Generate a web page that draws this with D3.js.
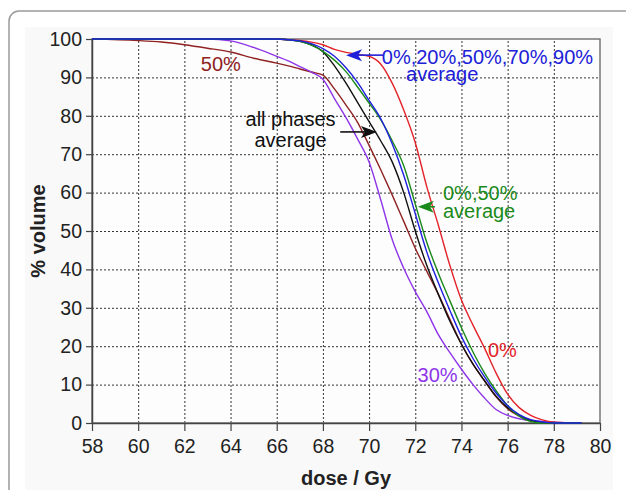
<!DOCTYPE html>
<html>
<head>
<meta charset="utf-8">
<script src="https://cdn.jsdelivr.net/npm/d3@7"></script>
<style>
  body { margin: 0; background: #fff; }
  svg { display: block; font-family: "Liberation Sans", Arial, sans-serif; }
</style>
</head>
<body>
<svg width="626" height="490"></svg>
<script>
// dose grid (Gy) shared by all curves
var dose = [58, 60, 61, 62, 63, 64, 65, 66, 66.5, 67, 67.5, 68, 68.5, 69, 69.5, 70, 70.5,
  71, 71.5, 72, 72.5, 73, 73.5, 74, 74.5, 75, 75.5, 76, 76.5, 77, 77.5, 78, 79.2];

// % volume per phase / average
var phase0 = [100, 100, 100, 100, 100, 100, 100, 100, 99.8, 99.6, 99.2, 98.5, 97.3, 96.5, 96, 95.5, 93.5,
  88.5, 81.5, 73, 61.5, 51.5, 41, 32, 25.5, 19.5, 13, 7.5, 4, 2, 0.8, 0.2, 0];
var avg5 = [100, 100, 100, 100, 100, 100, 100, 100, 99.8, 99.5, 98.8, 97.5, 95.5, 92.5, 88.7, 84, 79.3,
  72.7, 64.5, 54.5, 44.5, 36.5, 29.3, 22.5, 16.8, 12, 7.8, 4.5, 2.2, 0.9, 0.3, 0, 0];
var avg0_50 = [100, 100, 100, 100, 100, 100, 100, 100, 99.8, 99.4, 98.4, 96.8, 94.5, 91.5, 87.5, 83.3, 79,
  73.5, 67, 57, 47, 39, 31.8, 24.8, 18.5, 13, 8.4, 4.5, 1.8, 0.4, 0, 0, 0];
var avgAll = [100, 100, 100, 100, 100, 100, 100, 100, 99.8, 99.4, 98.5, 96.7, 93, 88.5, 83.5, 78.5, 73.5,
  68, 60, 50, 41, 33.5, 26.5, 20.5, 15.3, 11, 7, 4, 2, 0.7, 0.1, 0, 0];
var phase50 = [100, 99.6, 99.2, 98.5, 97.6, 96.6, 95, 93.7, 93, 92.2, 91.4, 90.6, 87, 82.8, 78.3, 72.3, 66,
  59.4, 52.5, 45.5, 39.5, 33.5, 27, 20.5, 15.3, 11, 6.8, 3.7, 1.8, 0.7, 0.2, 0, 0];
var phase30 = [100, 100, 100, 100, 100, 99.5, 97.8, 95.5, 94.3, 92.8, 91.4, 89.5, 84.5, 79.5, 74, 68, 58.2,
  47.8, 40.3, 34.2, 29, 23, 18.3, 14, 10, 6.5, 3.5, 2, 1.1, 0.6, 0.4, 0.2, 0];

var xTicks = d3.range(58, 81, 2);
var yTicks = d3.range(0, 101, 10);

var series = [
  { id: "phase50", values: phase50, color: "#8f2222" },
  { id: "phase30", values: phase30, color: "#8e35e8" },
  { id: "phase0", values: phase0, color: "#e3242b" },
  { id: "avgAll", values: avgAll, color: "#111111" },
  { id: "avg0_50", values: avg0_50, color: "#1a8a1a" },
  { id: "avg5", values: avg5, color: "#2020e0" }
];

var svg = d3.select("svg");

// outer frame
svg.append("rect").attr("x", 25).attr("y", 27).attr("width", 588).attr("height", 480)
  .attr("fill", "#f9f9f9");
svg.append("rect").attr("x", 9).attr("y", 11).attr("width", 700).attr("height", 600)
  .attr("rx", 10).attr("fill", "none").attr("stroke", "#9a9a9a").attr("stroke-width", 1.5);

var x = d3.scaleLinear().domain([58, 80]).range([92, 600]),
  y = d3.scaleLinear().domain([0, 100]).range([423, 39]);

svg.append("rect").attr("x", x(58)).attr("y", y(100))
  .attr("width", x(80) - x(58)).attr("height", y(0) - y(100))
  .attr("fill", "#fdfdfd");

// grid
var grid = svg.append("g").attr("stroke", "#333").attr("stroke-dasharray", "2,2").attr("stroke-width", 1);
grid.selectAll(".gx").data(xTicks.slice(1, -1)).enter().append("line")
  .attr("x1", function(d) { return x(d) + 0.5; }).attr("x2", function(d) { return x(d) + 0.5; })
  .attr("y1", y(0)).attr("y2", y(100));
grid.selectAll(".gy").data(yTicks.slice(1, -1)).enter().append("line")
  .attr("y1", function(d) { return y(d) + 0.5; }).attr("y2", function(d) { return y(d) + 0.5; })
  .attr("x1", x(58)).attr("x2", x(80));

// plot border
svg.append("rect").attr("x", x(58)).attr("y", y(100))
  .attr("width", x(80) - x(58)).attr("height", y(0) - y(100))
  .attr("fill", "none").attr("stroke", "#777").attr("stroke-width", 1.5);

// axes
var gx = svg.append("g").attr("transform", "translate(0," + y(0) + ")")
  .call(d3.axisBottom(x).tickValues(xTicks).tickSize(8).tickSizeOuter(0).tickPadding(8));
var gy = svg.append("g").attr("transform", "translate(" + x(58) + ",0)")
  .call(d3.axisLeft(y).tickValues(yTicks).tickSize(6).tickSizeOuter(0).tickPadding(4));
[gx, gy].forEach(function(g) {
  g.select(".domain").attr("stroke", "#444").attr("stroke-width", 1.5);
  g.selectAll(".tick line").attr("stroke", "#444").attr("stroke-width", 1.2);
  g.selectAll(".tick text").attr("font-size", 19.5).attr("fill", "#222")
    .attr("font-family", "Liberation Sans, Arial, sans-serif");
});

// curves
var line = d3.line()
  .curve(d3.curveMonotoneX)
  .x(function(d, i) { return x(dose[i]); })
  .y(function(d) { return y(d); });

svg.append("g").selectAll("path").data(series).enter().append("path")
  .attr("d", function(d) { return line(d.values); })
  .attr("fill", "none")
  .attr("stroke", function(d) { return d.color; })
  .attr("stroke-width", 1.4);

// axis titles
svg.append("text").attr("x", (x(58) + x(80)) / 2).attr("y", 485)
  .attr("text-anchor", "middle").attr("font-size", 20).attr("font-weight", "bold")
  .attr("fill", "#222").text("dose / Gy");
svg.append("text").attr("transform", "translate(45," + (y(50)) + ") rotate(-90)")
  .attr("text-anchor", "middle").attr("font-size", 20).attr("font-weight", "bold")
  .attr("fill", "#222").text("% volume");

// annotations
var labels = [
  { t: "50%", v: 63.58, p: 91.6, color: "#8f2222", anchor: "middle" },
  { t: "0%,20%,50%,70%,90%", v: 70.55, p: 93.4, color: "#2020d8", anchor: "start" },
  { t: "average", v: 71.6, p: 89.0, color: "#2020d8", anchor: "start" },
  { t: "all phases", v: 66.6, p: 77.3, color: "#111", anchor: "middle" },
  { t: "average", v: 66.6, p: 71.8, color: "#111", anchor: "middle" },
  { t: "0%,50%", v: 73.2, p: 58.1, color: "#1a8a1a", anchor: "start" },
  { t: "average", v: 73.2, p: 53.3, color: "#1a8a1a", anchor: "start" },
  { t: "0%", v: 75.15, p: 17.2, color: "#e3242b", anchor: "start" },
  { t: "30%", v: 72.1, p: 10.7, color: "#8e35e8", anchor: "start" }
];
svg.append("g").selectAll("text").data(labels).enter().append("text")
  .attr("x", function(d) { return x(d.v); })
  .attr("y", function(d) { return y(d.p); })
  .attr("text-anchor", function(d) { return d.anchor; })
  .attr("font-size", 20)
  .attr("fill", function(d) { return d.color; })
  .text(function(d) { return d.t; });

// arrows: tail (v0,p) -> tip (v1,p)
var arrows = [
  { v0: 70.6, v1: 69.0, p: 95.8, color: "#2020d8" },
  { v0: 68.75, v1: 70.34, p: 75.8, color: "#111" },
  { v0: 72.85, v1: 72.11, p: 56.3, color: "#1a8a1a" }
];
var ag = svg.append("g");
arrows.forEach(function(a) {
  var x0 = x(a.v0), x1 = x(a.v1), yy = y(a.p);
  var dir = x1 > x0 ? 1 : -1;
  ag.append("line").attr("x1", x0).attr("x2", x1 - dir * 10).attr("y1", yy).attr("y2", yy)
    .attr("stroke", a.color).attr("stroke-width", 1.6);
  ag.append("path")
    .attr("d", "M" + x1 + "," + yy + "L" + (x1 - dir * 16) + "," + (yy - 6) +
      "L" + (x1 - dir * 12) + "," + yy + "L" + (x1 - dir * 16) + "," + (yy + 6) + "Z")
    .attr("fill", a.color);
});
</script>
</body>
</html>
